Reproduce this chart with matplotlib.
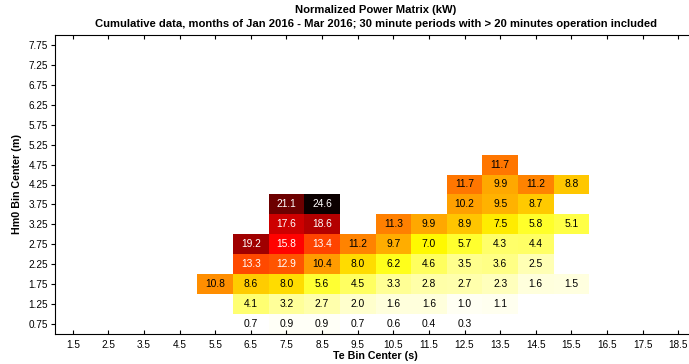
import numpy as np
import matplotlib
matplotlib.use('Agg')
import matplotlib.pyplot as plt

plt.rcParams['font.family'] = ['Liberation Sans', 'DejaVu Sans']

# bin centres
te_centers = np.arange(1.5, 19.0, 1.0)     # 1.5 .. 18.5
hm0_centers = np.arange(0.75, 8.0, 0.5)    # 0.75 .. 7.75

# normalized power (kW) per Hm0 row, keyed by Te bin centre
row_075 = {6.5: 0.7, 7.5: 0.9, 8.5: 0.9, 9.5: 0.7, 10.5: 0.6, 11.5: 0.4, 12.5: 0.3}
row_125 = {6.5: 4.1, 7.5: 3.2, 8.5: 2.7, 9.5: 2.0, 10.5: 1.6, 11.5: 1.6, 12.5: 1.0, 13.5: 1.1}
row_175 = {5.5: 10.8, 6.5: 8.6, 7.5: 8.0, 8.5: 5.6, 9.5: 4.5, 10.5: 3.3, 11.5: 2.8,
           12.5: 2.7, 13.5: 2.3, 14.5: 1.6, 15.5: 1.5}
row_225 = {6.5: 13.3, 7.5: 12.9, 8.5: 10.4, 9.5: 8.0, 10.5: 6.2, 11.5: 4.6, 12.5: 3.5,
           13.5: 3.6, 14.5: 2.5}
row_275 = {6.5: 19.2, 7.5: 15.8, 8.5: 13.4, 9.5: 11.2, 10.5: 9.7, 11.5: 7.0, 12.5: 5.7,
           13.5: 4.3, 14.5: 4.4}
row_325 = {7.5: 17.6, 8.5: 18.6, 10.5: 11.3, 11.5: 9.9, 12.5: 8.9, 13.5: 7.5, 14.5: 5.8,
           15.5: 5.1}
row_375 = {7.5: 21.1, 8.5: 24.6, 12.5: 10.2, 13.5: 9.5, 14.5: 8.7}
row_425 = {12.5: 11.7, 13.5: 9.9, 14.5: 11.2, 15.5: 8.8}
row_475 = {13.5: 11.7}

rows = {0.75: row_075, 1.25: row_125, 1.75: row_175, 2.25: row_225, 2.75: row_275,
        3.25: row_325, 3.75: row_375, 4.25: row_425, 4.75: row_475}

# build the matrix
power = np.full((len(hm0_centers), len(te_centers)), np.nan)
for hm0, vals in rows.items():
    i = int(round((hm0 - 0.75) / 0.5))
    for te, v in vals.items():
        j = int(round(te - 1.5))
        power[i, j] = v

te_edges = np.append(te_centers - 0.5, te_centers[-1] + 0.5)
hm0_edges = np.append(hm0_centers - 0.25, hm0_centers[-1] + 0.25)

fig = plt.figure(figsize=(6.89, 3.64), dpi=100)
ax = fig.add_axes([55 / 689, 1 - 334 / 364, 641 / 689, 299 / 364])

cmap = plt.get_cmap('hot_r').copy()
ax.pcolormesh(te_edges, hm0_edges, np.ma.masked_invalid(power),
              cmap=cmap, vmin=0.7, vmax=24.6)

# value labels
for i, hm0 in enumerate(hm0_centers):
    for j, te in enumerate(te_centers):
        v = power[i, j]
        if np.isnan(v):
            continue
        col = 'white' if v > 12 else 'black'
        ax.text(te, hm0, f'{v:.1f}', ha='center', va='center', fontsize=7.4, color=col)

ax.set_xlim(1.0, 19.0)
ax.set_ylim(0.5, 8.0)
ax.set_xticks(te_centers)
ax.set_xticklabels([f'{t:g}' for t in te_centers])
ax.set_yticks(hm0_centers)
ax.set_yticklabels([f'{h:.2f}' for h in hm0_centers])
ax.tick_params(axis='x', direction='in', top=True, length=3, labelsize=7.2, pad=4)
ax.tick_params(axis='y', direction='out', length=3, labelsize=7.2, pad=2)
ax.spines['right'].set_visible(False)

ax.set_xlabel('Te Bin Center (s)', fontsize=7.7, fontweight='bold', labelpad=1)
ax.set_ylabel('Hm0 Bin Center (m)', fontsize=7.7, fontweight='bold')
ax.yaxis.set_label_coords(-0.052, 0.5)

# two-line title, centred over the plot area
title_x = 376 / 689
fig.text(title_x, 1 - 10 / 364, 'Normalized Power Matrix (kW)', ha='center', va='center',
         fontsize=8.1, fontweight='bold')
fig.text(title_x, 1 - 24 / 364,
         'Cumulative data, months of Jan 2016 - Mar 2016; 30 minute periods with > 20 minutes operation included',
         ha='center', va='center', fontsize=8.1, fontweight='bold')

fig.savefig('out.png', dpi=100)
